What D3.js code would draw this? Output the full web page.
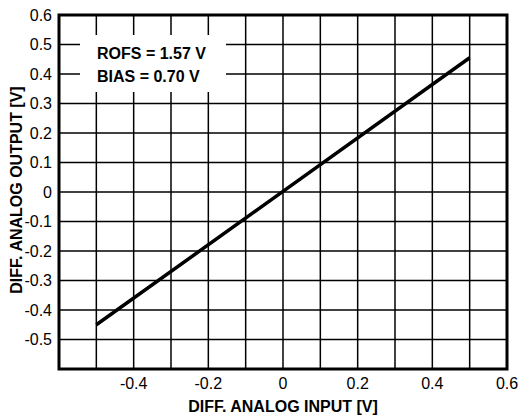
<!DOCTYPE html>
<html>
<head>
<meta charset="utf-8">
<script src="https://cdn.jsdelivr.net/npm/d3@7"></script>
<style>
  body { margin: 0; background: #fff; }
  text { font-family: "Liberation Sans", Arial, sans-serif; fill: #000; }
</style>
</head>
<body>
<div id="my_dataviz"></div>
<script>
// transfer curve
var inputV = [-0.5, 0, 0.5];
var outputV = [-0.45, 0.002, 0.455];

var xTickLabels = [-0.4, -0.2, 0, 0.2, 0.4, 0.6];
var yTickLabels = [-0.5, -0.4, -0.3, -0.2, -0.1, 0, 0.1, 0.2, 0.3, 0.4, 0.5, 0.6];
var gridVals = [-0.5, -0.4, -0.3, -0.2, -0.1, 0, 0.1, 0.2, 0.3, 0.4, 0.5];
var legendLines = ["ROFS = 1.57 V", "BIAS = 0.70 V"];

var W = 521, H = 418;
var plotL = 59, plotT = 15, plotR = 507, plotB = 369;

var svg = d3.select("#my_dataviz").append("svg").attr("width", W).attr("height", H);

var x = d3.scaleLinear().domain([-0.6, 0.6]).range([plotL, plotR]);
var y = d3.scaleLinear().domain([-0.6, 0.6]).range([plotB, plotT]);

// grid
svg.append("g").selectAll("line").data(gridVals).join("line")
  .attr("x1", d => x(d)).attr("x2", d => x(d))
  .attr("y1", plotT).attr("y2", plotB)
  .attr("stroke", "#000").attr("stroke-width", 1.5);
svg.append("g").selectAll("line").data(gridVals).join("line")
  .attr("x1", plotL).attr("x2", plotR)
  .attr("y1", d => y(d)).attr("y2", d => y(d))
  .attr("stroke", "#000").attr("stroke-width", 1.5);

// legend box hides grid under it
svg.append("rect").attr("x", 80).attr("y", 35).attr("width", 146).attr("height", 57).attr("fill", "#fff");
svg.append("g").selectAll("text").data(legendLines).join("text")
  .attr("x", 97).attr("y", (d, i) => 59 + i * 23)
  .style("font-size", "16px").style("font-weight", "bold")
  .text(d => d);

// frame
svg.append("rect").attr("x", plotL).attr("y", plotT).attr("width", plotR - plotL).attr("height", plotB - plotT)
  .attr("fill", "none").attr("stroke", "#000").attr("stroke-width", 3);

// curve
var line = d3.line().x((d, i) => x(inputV[i])).y(d => y(d));
svg.append("path").datum(outputV).attr("d", line)
  .attr("fill", "none").attr("stroke", "#000").attr("stroke-width", 3.5);

// tick labels
svg.append("g").selectAll("text").data(xTickLabels).join("text")
  .attr("x", d => x(d)).attr("y", 389)
  .attr("text-anchor", "middle").style("font-size", "16px")
  .text(d => String(d));
svg.append("g").selectAll("text").data(yTickLabels).join("text")
  .attr("x", 52).attr("y", d => y(d)).attr("dy", "0.35em")
  .attr("text-anchor", "end").style("font-size", "16px")
  .text(d => String(d));

// axis titles
svg.append("text").attr("x", (plotL + plotR) / 2).attr("y", 412)
  .attr("text-anchor", "middle").style("font-size", "16px").style("font-weight", "bold")
  .text("DIFF. ANALOG INPUT [V]");
svg.append("text").attr("transform", "translate(22," + ((plotT + plotB) / 2 - 2) + ") rotate(-90)")
  .attr("text-anchor", "middle").style("font-size", "16px").style("font-weight", "bold")
  .text("DIFF. ANALOG OUTPUT [V]");
</script>
</body>
</html>
